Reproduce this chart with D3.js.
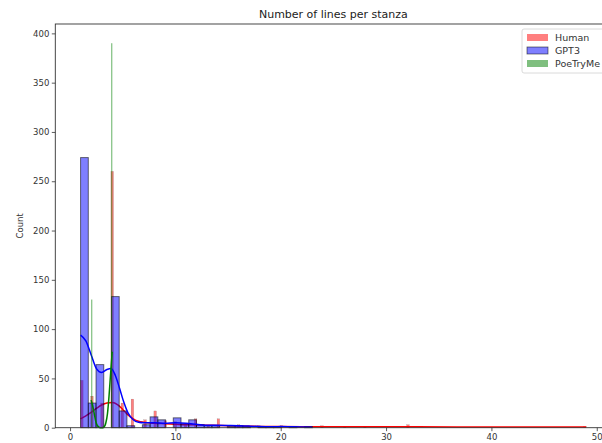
<!DOCTYPE html>
<html><head><meta charset="utf-8">
<script src="https://cdn.jsdelivr.net/npm/d3@7"></script>
<style>
html,body{margin:0;padding:0;background:#fff;}
svg{display:block;font-family:"DejaVu Sans",sans-serif;}
</style></head>
<body><svg id="c" width="602" height="443"></svg>
<script>
// ---- data ----
const title = "Number of lines per stanza";
const seriesNames = ["Human", "GPT3", "PoeTryMe"];
const xTicks = [0, 10, 20, 30, 40, 50];
const yTicks = [0, 50, 100, 150, 200, 250, 300, 350, 400];

// Human: value -> count (narrow bins)
const humanValues = [1, 2, 3, 4, 5, 6, 7, 8, 9, 10, 11, 12, 13, 14, 15, 16, 17, 18, 20, 24, 26, 28, 32, 49];
const humanCounts = [48, 32, 25, 260, 25, 29, 8, 17, 7, 6, 3, 9, 2, 9, 1, 3, 1, 2, 2, 2, 1, 1, 3, 1];
const humanBin = 0.24;

// GPT3: 30 bins from 1 to 23
const gptStart = 1, gptEnd = 23;
const gptCounts = [274, 25, 64, 0, 133, 17, 2, 0, 3, 11, 8, 0, 10, 4, 8, 3, 2, 2, 0, 1, 2, 1, 0, 1, 1, 1, 0, 1, 0, 1];

// PoeTryMe: value -> count (very narrow bins)
const poeValues = [2, 4];
const poeCounts = [130, 390];
const poeBin = 0.1;

// KDE curves: [x, count]
const humanKde = [[1,9],[1.5,12],[2,15.5],[2.5,19.5],[3,23],[3.5,25],[4,25.5],[4.5,23.5],[5,18.5],[5.5,13],[6,9],[6.5,6.5],[7,5.5],[8,4.5],[9,4],[10,3.5],[11,3],[12,3],[13,2.5],[14,2.3],[15,2],[16,1.7],[18,1.3],[20,1.1],[23,1],[26,0.9],[30,0.9],[33,0.9],[40,0.7],[49,0.6]];
const gptKde = [[1,94],[1.5,88],[2,74],[2.5,60],[3,56],[3.5,59],[3.9,60],[4.3,53],[4.7,40],[5.1,26],[5.5,15],[6,8],[6.5,5.5],[7,5],[8,5],[9,4.5],[10,5],[11,4.5],[12,3.5],[13,2.5],[14,2.5],[15,2.2],[16,2],[17,1.6],[18,1.2],[19,1],[20,1.1],[21,0.9],[22,0.7],[23,0.5]];
const poeKde = [[2,28],[2.15,22],[2.3,14],[2.45,6],[2.6,2],[2.8,0.3],[3.0,0],[3.2,0.5],[3.4,5],[3.55,14],[3.7,32],[3.85,55],[4,77]];

// ---- layout ----
const svg = d3.select("#c");
const L = 55.3, R = 611.5, T = 24, B = 427.7;
const x = d3.scaleLinear().domain([-1.4, 51.4]).range([L, R]);
const y = d3.scaleLinear().domain([0, 409.5]).range([B, T]);

const plot = svg.append("g");

function binStart(v, w, lo, hi) {
  let k = Math.floor((v - lo) / w + 1e-9);
  const n = Math.round((hi - lo) / w);
  if (k >= n) k = n - 1;
  return lo + k * w;
}

// Human bars
const hLo = d3.min(humanValues), hHi = d3.max(humanValues);
plot.append("g").selectAll("rect").data(humanValues.map((v,i)=>({v, c: humanCounts[i]})))
  .join("rect")
  .attr("x", d => x(binStart(d.v, humanBin, hLo, hHi)))
  .attr("width", d => x(binStart(d.v, humanBin, hLo, hHi) + humanBin) - x(binStart(d.v, humanBin, hLo, hHi)))
  .attr("y", d => y(d.c))
  .attr("height", d => y(0) - y(d.c))
  .attr("fill", "rgba(255,0,0,0.5)")
  .attr("stroke", "rgba(0,0,0,0.35)").attr("stroke-width", 0.3);
plot.append("path").datum(humanKde)
  .attr("d", d3.line().x(d=>x(d[0])).y(d=>y(d[1])).curve(d3.curveMonotoneX))
  .attr("fill", "none").attr("stroke", "#ff0000").attr("stroke-width", 1.5);

// GPT3 bars
const gw = (gptEnd - gptStart) / gptCounts.length;
plot.append("g").selectAll("rect").data(gptCounts.map((c,i)=>({x0: gptStart + i*gw, c})).filter(d=>d.c>0))
  .join("rect")
  .attr("x", d => x(d.x0))
  .attr("width", d => x(d.x0 + gw) - x(d.x0))
  .attr("y", d => y(d.c))
  .attr("height", d => y(0) - y(d.c))
  .attr("fill", "rgba(0,0,255,0.5)")
  .attr("stroke", "rgba(0,0,0,0.55)").attr("stroke-width", 1);
plot.append("path").datum(gptKde)
  .attr("d", d3.line().x(d=>x(d[0])).y(d=>y(d[1])).curve(d3.curveMonotoneX))
  .attr("fill", "none").attr("stroke", "#0000ff").attr("stroke-width", 1.5);

// PoeTryMe bars
const pLo = d3.min(poeValues), pHi = d3.max(poeValues);
plot.append("g").selectAll("rect").data(poeValues.map((v,i)=>({v, c: poeCounts[i]})))
  .join("rect")
  .attr("x", d => x(binStart(d.v, poeBin, pLo, pHi)))
  .attr("width", d => Math.max(1.2, x(binStart(d.v, poeBin, pLo, pHi) + poeBin) - x(binStart(d.v, poeBin, pLo, pHi))))
  .attr("y", d => y(d.c))
  .attr("height", d => y(0) - y(d.c))
  .attr("fill", "rgba(0,128,0,0.5)")
  .attr("stroke", "none");
plot.append("path").datum(poeKde)
  .attr("d", d3.line().x(d=>x(d[0])).y(d=>y(d[1])).curve(d3.curveMonotoneX))
  .attr("fill", "none").attr("stroke", "#008000").attr("stroke-width", 1.5);

// axes
const xAxis = d3.axisBottom(x).tickValues(xTicks).tickSize(3.5).tickPadding(2.5);
const gx = svg.append("g").attr("transform", `translate(0,${B})`).call(xAxis);
const yAxis = d3.axisLeft(y).tickValues(yTicks).tickSize(3.5).tickPadding(2.5);
const gy = svg.append("g").attr("transform", `translate(${L},0)`).call(yAxis);
[gx, gy].forEach(g => {
  g.select(".domain").remove();
  g.selectAll("line").attr("stroke", "#333").attr("stroke-width", 0.8);
  g.selectAll("text").attr("fill", "#333").style("font-size", "8.5px").style("font-family", "DejaVu Sans, sans-serif");
});

// frame (spines)
svg.append("rect").attr("x", L).attr("y", T).attr("width", R - L).attr("height", B - T)
  .attr("fill", "none").attr("stroke", "#333").attr("stroke-width", 0.9);

// labels
svg.append("text").attr("x", (L + R) / 2).attr("y", 18).attr("text-anchor", "middle")
  .style("font-size", "11px").attr("fill", "#222").text(title);
svg.append("text").attr("transform", `translate(23,${(T + B) / 2}) rotate(-90)`).attr("text-anchor", "middle")
  .style("font-size", "8.5px").attr("fill", "#333").text("Count");

// legend
const lg = svg.append("g").attr("transform", "translate(522,29)");
lg.append("rect").attr("x", 0).attr("y", 0).attr("width", 100).attr("height", 44).attr("rx", 2)
  .attr("fill", "#fff").attr("fill-opacity", 0.8).attr("stroke", "#d0d0d0").attr("stroke-width", 0.8);
const legFill = ["rgba(255,0,0,0.5)", "rgba(0,0,255,0.5)", "rgba(0,128,0,0.5)"];
const legStroke = ["none", "rgba(0,0,0,0.6)", "none"];
seriesNames.forEach((n, i) => {
  const yy = 5 + i * 13;
  lg.append("rect").attr("x", 5).attr("y", yy).attr("width", 21).attr("height", 7)
    .attr("fill", legFill[i]).attr("stroke", legStroke[i]).attr("stroke-width", 0.8);
  lg.append("text").attr("x", 33).attr("y", yy + 7).style("font-size", "9.5px").attr("fill", "#333").text(n);
});
</script></body></html>
